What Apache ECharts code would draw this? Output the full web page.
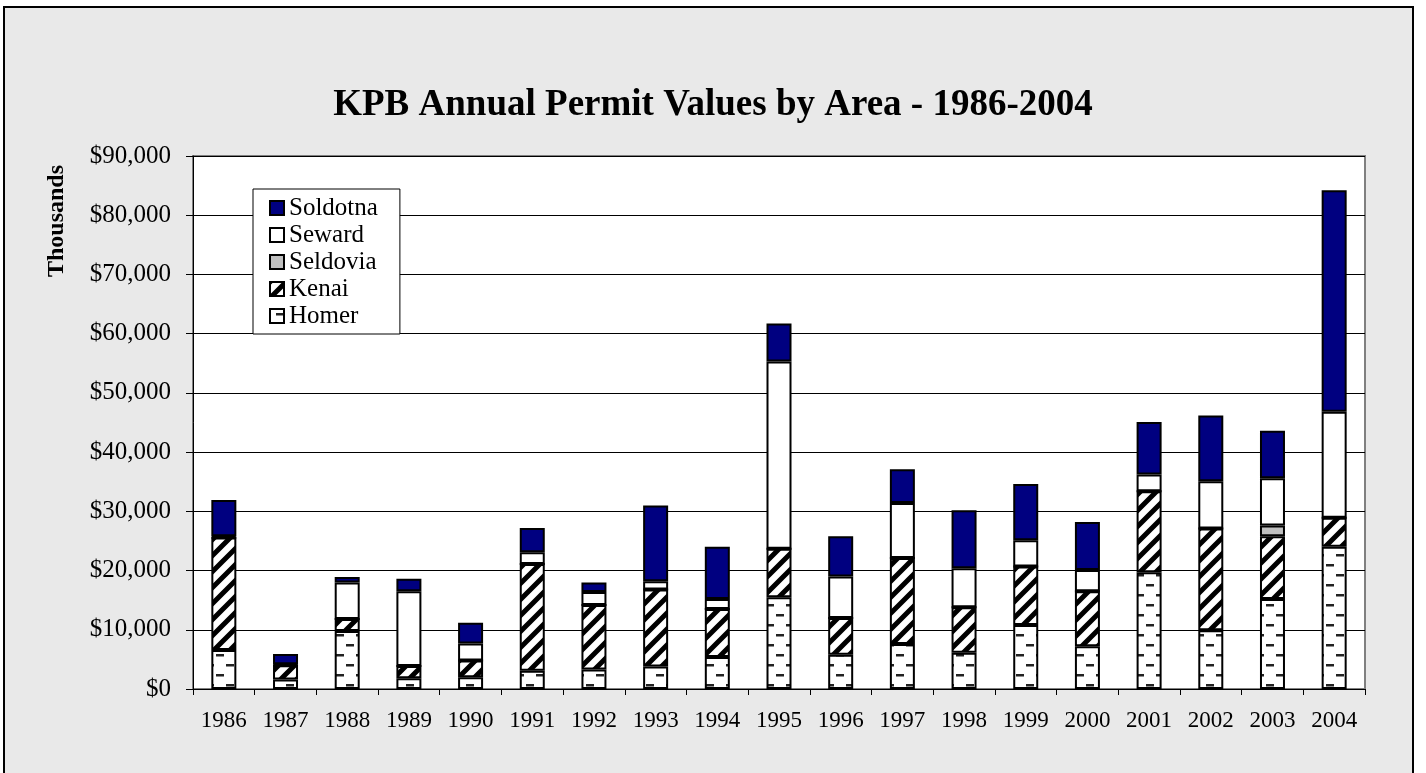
<!DOCTYPE html>
<html>
<head>
<meta charset="utf-8">
<title>KPB Annual Permit Values by Area</title>
<script src="https://cdn.jsdelivr.net/npm/echarts@6/dist/echarts.min.js"></script>
<style>
  html, body { margin: 0; padding: 0; background: #fff; }
  #chart { width: 1426px; height: 773px; }
</style>
</head>
<body>
<div id="chart"></div>
<script>
// values in thousands of dollars
const years = ['1986', '1987', '1988', '1989', '1990', '1991', '1992', '1993', '1994', '1995',
  '1996', '1997', '1998', '1999', '2000', '2001', '2002', '2003', '2004']
const homer = [6600, 1600, 9800, 1800, 2000, 3100, 3300, 3800, 5400, 15500,
  5800, 7600, 6100, 10800, 7200, 19700, 9900, 15200, 24000]
const kenai = [19000, 2400, 2000, 2100, 2800, 18000, 10900, 13000, 8100, 8200,
  6200, 14500, 7700, 9900, 9300, 13700, 17200, 10600, 4900]
const seldovia = [0, 0, 0, 0, 0, 0, 0, 0, 0, 0,
  0, 0, 0, 0, 0, 0, 0, 1800, 0]
const seward = [200, 200, 6200, 12600, 2900, 2000, 2200, 1400, 1700, 31600,
  7000, 9300, 6600, 4400, 3600, 2800, 8000, 8000, 17900]
const soldotna = [6100, 1700, 900, 2100, 3500, 4100, 1600, 12800, 8800, 6400,
  6800, 5700, 9800, 9500, 8100, 8900, 11100, 8000, 37400]

const FONT = "'Liberation Serif', 'Times New Roman', serif"

// small tiles used as fill patterns (excel style hatching)
function stripeTile() {
  const s = 16
  const c = document.createElement('canvas')
  c.width = s
  c.height = s
  const ctx = c.getContext('2d')
  ctx.fillStyle = '#fff'
  ctx.fillRect(0, 0, s, s)
  ctx.strokeStyle = '#000'
  ctx.lineWidth = 5
  ctx.beginPath()
  ctx.moveTo(-4, s + 4); ctx.lineTo(s + 4, -4)
  ctx.moveTo(-4, 4); ctx.lineTo(4, -4)
  ctx.moveTo(s - 4, s + 4); ctx.lineTo(s + 4, s - 4)
  ctx.stroke()
  return c
}

function dashTile() {
  const w = 20
  const h = 20
  const c = document.createElement('canvas')
  c.width = w
  c.height = h
  const ctx = c.getContext('2d')
  ctx.fillStyle = '#fff'
  ctx.fillRect(0, 0, w, h)
  ctx.fillStyle = '#222'
  ctx.fillRect(6, 4, 8, 2.5)
  ctx.fillRect(16, 14, 4, 2.5)
  ctx.fillRect(0, 14, 4, 2.5)
  return c
}

const chart = echarts.init(document.getElementById('chart'))

function bar(name, data, color) {
  return {
    name: name,
    type: 'bar',
    stack: 'total',
    barWidth: 25,
    data: data,
    itemStyle: {
      color: color,
      borderColor: '#000',
      borderWidth: 2
    }
  }
}

chart.setOption({
  animation: false,
  backgroundColor: '#fff',
  graphic: [
    {
      type: 'rect',
      z: -10,
      silent: true,
      shape: { x: 4, y: 7, width: 1409, height: 800 },
      style: { fill: '#e9e9e9', stroke: '#000', lineWidth: 2 }
    },
    {
      type: 'text',
      x: 57,
      y: 221,
      rotation: Math.PI / 2,
      style: {
        text: 'Thousands',
        font: 'bold 24px ' + FONT,
        fill: '#000',
        align: 'center',
        verticalAlign: 'middle'
      }
    }
  ],
  title: {
    text: 'KPB Annual Permit Values by Area - 1986-2004',
    left: 'center',
    top: 82,
    textStyle: {
      fontFamily: FONT,
      fontWeight: 'bold',
      fontSize: 37,
      color: '#000'
    }
  },
  legend: {
    orient: 'vertical',
    left: 253,
    top: 189,
    data: ['Soldotna', 'Seward', 'Seldovia', 'Kenai', 'Homer'],
    icon: 'rect',
    itemWidth: 14,
    itemHeight: 14,
    itemGap: 1,
    padding: [6, 22, 5, 16],
    backgroundColor: '#fff',
    borderColor: '#000',
    borderWidth: 1,
    borderRadius: 0,
    textStyle: {
      fontFamily: FONT,
      fontSize: 25,
      lineHeight: 26,
      color: '#000'
    }
  },
  grid: {
    left: 193,
    right: 61,
    top: 156,
    bottom: 84,
    show: true,
    backgroundColor: '#fff',
    borderColor: '#808080',
    borderWidth: 2
  },
  xAxis: {
    type: 'category',
    data: years,
    axisLine: { lineStyle: { color: '#000', width: 1 } },
    axisTick: { show: true, length: 6, lineStyle: { color: '#000' } },
    axisLabel: {
      margin: 20,
      fontFamily: FONT,
      fontSize: 23,
      color: '#000'
    }
  },
  yAxis: {
    type: 'value',
    min: 0,
    max: 90000,
    interval: 10000,
    axisLine: { show: true, lineStyle: { color: '#000', width: 1 } },
    axisTick: { show: true, length: 7, lineStyle: { color: '#000' } },
    splitLine: { lineStyle: { color: '#000', width: 1 } },
    axisLabel: {
      margin: 22,
      fontFamily: FONT,
      fontSize: 25,
      color: '#000',
      formatter: v => '$' + v.toLocaleString('en-US')
    }
  },
  series: [
    bar('Homer', homer, { image: dashTile(), repeat: 'repeat' }),
    bar('Kenai', kenai, { image: stripeTile(), repeat: 'repeat' }),
    bar('Seldovia', seldovia, '#c0c0c0'),
    bar('Seward', seward, '#fff'),
    bar('Soldotna', soldotna, '#000080')
  ]
})
</script>
</body>
</html>
